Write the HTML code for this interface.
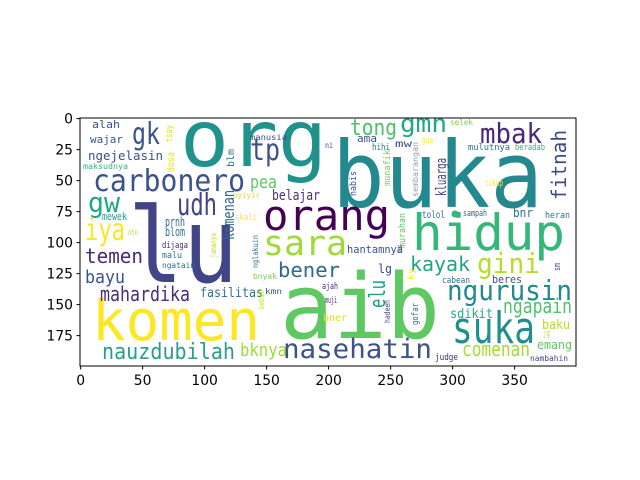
<!DOCTYPE html>
<html><head><meta charset="utf-8"><style>
body{margin:0;background:#fff;}
svg{display:block;}
.t{font-family:"DejaVu Sans","Liberation Sans",sans-serif;font-size:13.9px;fill:#000;}
.w{font-family:"DejaVu Sans Mono","Liberation Mono",monospace;}
</style></head><body>
<svg id="c" width="640" height="480" viewBox="0 0 640 480">
<defs><clipPath id="ax"><rect x="80" y="118" width="496" height="248"/></clipPath></defs>
<rect width="640" height="480" fill="#fff"/>
<g id="words" clip-path="url(#ax)"></g>
<rect x="80" y="118" width="496" height="248" fill="none" stroke="#000" stroke-width="1"/>
<g id="xt"></g>
<g id="yt"></g>
</svg>
<script>
const xTicks=[0,50,100,150,200,250,300,350];
const yTicks=[0,25,50,75,100,125,150,175];
// text, x, y, size, color, rotated, length (px)
const words=[
["org",180,166,78,"#20928c",0,147],
["buka",332,207,92,"#23898e",0,211],
["lu",128,282,104,"#414487",0,110],
["komen",92,340,56,"#fde725",0,168],
["aib",280,338,90,"#5ec962",0,160],
["hidup",412,250,50,"#35b779",0,153],
["orang",263,230,42,"#440154",0,127],
["sara",263,255,35,"#a0da39",0,84],
["carbonero",93,191,30,"#3b528b",0,152],
["udh",177,215,30,"#414487",0,40],
["gk",132,144,30,"#3b528b",0,28],
["tp",250,160,30,"#3b528b",0,30],
["gw",88,212,28,"#22a884",0,32],
["iya",85,240,30,"#fde725",0,40],
["pea",250,188,18,"#5ec962",0,27],
["belajar",272,200,14,"#46337e",0,48],
["alah",92,128,11,"#3b528b",0,28],
["wajar",90,143,11,"#3b528b",0,33],
["ngejelasin",88,160,12,"#3b528b",0,75],
["maksudnya",83,169,8,"#35b779",0,45],
["manusia",250,140,8,"#3e4a89",0,37],
["nyiyir",233,198,8,"#d8e219",0,27],
["mewek",102,220,11,"#1f9e89",0,25],
["prnh",165,226,12,"#31688e",0,20],
["skali",235,220,9,"#fde725",0,22],
["ntn",128,235,8,"#b5de2b",0,10],
["blom",165,236,12,"#2c728e",0,20],
["tong",350,135,22,"#4ac16d",0,47],
["gmn",400,132,25,"#22a884",0,47],
["selek",450,125,8,"#7ad151",0,23],
["mbak",480,143,28,"#482878",0,62],
["ama",357,142,11,"#3b528b",0,20],
["ni",325,148,8,"#3b528b",0,8],
["hihi",372,150,9,"#2c728e",0,18],
["mw",395,147,10,"#3e4a89",0,17],
["gua",422,143,9,"#fde725",0,11],
["mulutnya",468,150,9,"#2c728e",0,42],
["beradab",515,150,9,"#35b779",0,30],
["cikup",485,186,10,"#fde725",0,18],
["sampah",463,216,9,"#31688e",0,24],
["tolol",422,218,10,"#2c728e",0,23],
["bnr",513,217,12,"#2c728e",0,20],
["heran",545,218,9,"#2c728e",0,25],
["temen",85,263,20,"#482878",0,58],
["dijaga",162,248,9,"#482878",0,26],
["malu",162,258,9,"#2c728e",0,20],
["ngatain",162,268,8,"#2c728e",0,33],
["bayu",85,283,18,"#3b528b",0,40],
["mahardika",100,301,20,"#472d7b",0,90],
["fasilitas",200,297,13,"#2c728e",0,63],
["kmn",265,294,8,"#3b528b",0,17],
["bnyak",253,279,8,"#7ad151",0,24],
["nauzdubilah",102,359,22,"#2a9d8f",0,133],
["bknya",240,356,18,"#a0da39",0,47],
["bener",278,277,20,"#31688e",0,62],
["hantamnya",347,253,11,"#3b528b",0,56],
["kayak",410,271,20,"#20a386",0,60],
["gini",477,273,28,"#b5de2b",0,63],
["lg",378,273,12,"#3e4a89",0,14],
["cabean",442,283,9,"#2c728e",0,28],
["beres",492,283,11,"#3b528b",0,30],
["ngurusin",447,300,28,"#23898e",0,125],
["ajah",322,289,9,"#482878",0,16],
["muji",325,303,9,"#482878",0,12],
["sdikit",450,318,13,"#22a884",0,43],
["ngapain",503,313,20,"#4ec36b",0,69],
["bner",323,321,10,"#d8e219",0,24],
["baku",542,329,13,"#b5de2b",0,28],
["jg",543,336,9,"#c2df23",0,7],
["suka",452,343,44,"#21908d",0,83],
["emang",537,349,12,"#5ec962",0,35],
["comenan",462,356,20,"#a5db36",0,68],
["nasehatin",283,358,27,"#3b528b",0,149],
["judge",435,360,9,"#482878",0,23],
["nambahin",530,361,8,"#3e4a89",0,38],
["tsay",172,142,9,"#d8e219",1,17],
["dosa",174,172,10,"#e7e419",1,20],
["blm",234,167,10,"#2c728e",1,18],
["komenan",234,240,16,"#31688e",1,50],
["fitnah",566,200,20,"#3e4a89",1,70],
["munafik",390,186,9,"#7ad151",1,36],
["sembarangan",418,197,8,"#90a0a8",1,55],
["kluarga",446,196,14,"#443983",1,38],
["habis",356,196,9,"#3b528b",1,25],
["murahan",405,248,9,"#5ec962",1,35],
["jamanya",216,258,8,"#c2df23",1,25],
["nglakuin",258,268,8,"#2a788e",1,33],
["sebut",264,310,8,"#bddf26",1,20],
["elu",385,308,22,"#1f9e89",1,28],
["hadeeh",390,323,8,"#414487",1,23],
["gofar",418,325,9,"#31688e",1,22],
["sm",560,271,9,"#404387",1,8],
["ky",414,280,9,"#fde725",1,12],
["mu",402,253,8,"#3b528b",1,8]
];
const NS="http://www.w3.org/2000/svg";
const X0=80,Y0=118,S=1.24;
const xs=v=>X0+(v+0.5)*S;
const ys=v=>Y0+(v+0.5)*S;
const wg=document.getElementById('words');
words.forEach(w=>{
  const t=document.createElementNS(NS,'text');
  t.setAttribute('class','w');
  t.setAttribute('x',w[1]);t.setAttribute('y',w[2]);
  t.setAttribute('font-size',w[3]);t.setAttribute('fill',w[4]);
  t.setAttribute('textLength',w[6]);t.setAttribute('lengthAdjust','spacingAndGlyphs');
  if(w[5])t.setAttribute('transform','rotate(-90 '+w[1]+' '+w[2]+')');
  t.textContent=w[0];
  
  
  wg.appendChild(t);
});
const c=document.createElementNS(NS,'circle');
c.setAttribute('cx',455);c.setAttribute('cy',214);c.setAttribute('r',3.5);c.setAttribute('fill','#35b779');


wg.appendChild(c);
const xg=document.getElementById('xt');
xTicks.forEach(v=>{
  const x=xs(v);
  const l=document.createElementNS(NS,'line');
  l.setAttribute('x1',x);l.setAttribute('x2',x);l.setAttribute('y1',366);l.setAttribute('y2',369.5);l.setAttribute('stroke','#000');
  
  
  xg.appendChild(l);
  const t=document.createElementNS(NS,'text');
  t.setAttribute('class','t');t.setAttribute('x',x);t.setAttribute('y',385);t.setAttribute('text-anchor','middle');
  t.textContent=v;
  
  
  xg.appendChild(t);
});
const yg=document.getElementById('yt');
yTicks.forEach(v=>{
  const y=ys(v);
  const l=document.createElementNS(NS,'line');
  l.setAttribute('x1',76.5);l.setAttribute('x2',80);l.setAttribute('y1',y);l.setAttribute('y2',y);l.setAttribute('stroke','#000');
  
  
  yg.appendChild(l);
  const t=document.createElementNS(NS,'text');
  t.setAttribute('class','t');t.setAttribute('x',73);t.setAttribute('y',y+5);t.setAttribute('text-anchor','end');
  t.textContent=v;
  
  
  yg.appendChild(t);
});
</script>
</body></html>
